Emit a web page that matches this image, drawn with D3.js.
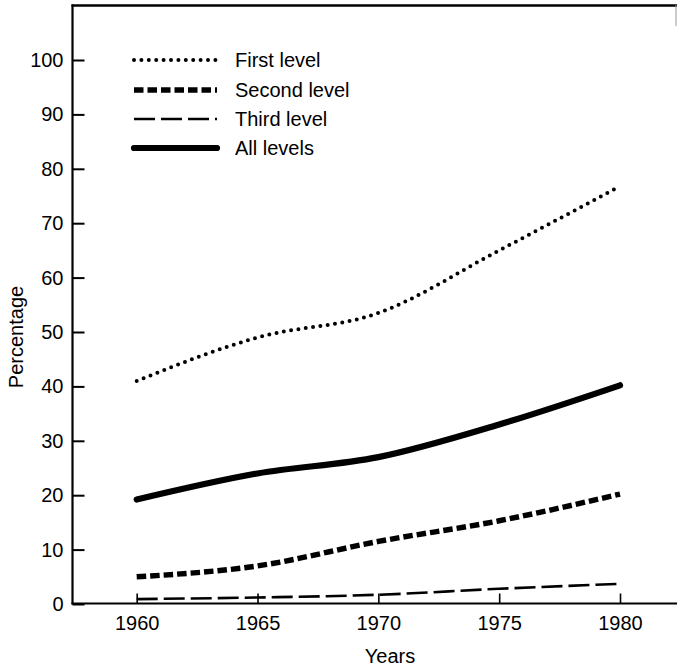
<!DOCTYPE html>
<html>
<head>
<meta charset="utf-8">
<script src="https://cdn.jsdelivr.net/npm/d3@7"></script>
<style>
  html, body { margin: 0; padding: 0; background: #fff; }
  svg { display: block; }
  text { font-family: "Liberation Sans", Arial, Helvetica, sans-serif; fill: #000; }
</style>
</head>
<body>
<svg id="chart" width="677" height="670"></svg>
<script>
// ---- data ----
const years = [1960, 1965, 1970, 1975, 1980];
const firstLevel  = [41, 49, 53.5, 65, 76.8];
const secondLevel = [5.0, 7.0, 11.5, 15.3, 20.2];
const thirdLevel  = [0.9, 1.2, 1.7, 2.8, 3.7];
const allLevels   = [19.2, 24.0, 27.0, 33.0, 40.2];
const seriesNames = ["First level", "Second level", "Third level", "All levels"];
const yTicks = [0, 10, 20, 30, 40, 50, 60, 70, 80, 90, 100];
const xTicks = [1960, 1965, 1970, 1975, 1980];

const seriesValues = [firstLevel, secondLevel, thirdLevel, allLevels];
const styles = [
  { width: 4.0, dash: "0 7.4", cap: "round" },
  { width: 5.4, dash: "9.5 4", cap: "butt" },
  { width: 2.6, dash: "21 6", cap: "butt" },
  { width: 6.2, dash: null,    cap: "round" }
];

const svg = d3.select("#chart");
const x = d3.scaleLinear().domain([1960, 1980]).range([136.7, 620]);
const y = d3.scaleLinear().domain([0, 100]).range([604, 60]);

// frame: top, left, bottom (right edge falls on the picture border)
const frame = svg.append("g").attr("stroke", "#000").attr("fill", "none");
frame.append("line").attr("x1", 71.5).attr("x2", 677).attr("y1", 5.5).attr("y2", 5.5).attr("stroke-width", 2.6);
frame.append("line").attr("x1", 72.5).attr("x2", 72.5).attr("y1", 4.5).attr("y2", 604.5).attr("stroke-width", 2.2);
frame.append("line").attr("x1", 71.5).attr("x2", 677).attr("y1", 603.5).attr("y2", 603.5).attr("stroke-width", 2.2);
frame.append("line").attr("x1", 676).attr("x2", 676).attr("y1", 5).attr("y2", 26).attr("stroke-width", 1).attr("stroke", "#999");

// y axis
const yAxis = svg.append("g").attr("transform", "translate(72.5,0)")
  .call(d3.axisLeft(y).tickValues(yTicks).tickSize(-12).tickPadding(9).tickFormat(d3.format("d")));
yAxis.select(".domain").remove();
yAxis.selectAll("line").attr("stroke", "#000").attr("stroke-width", 2);
yAxis.selectAll("text").style("font-size", "20px").attr("font-family", null);

// x axis
const xAxis = svg.append("g").attr("transform", "translate(0,603.5)")
  .call(d3.axisBottom(x).tickValues(xTicks).tickSize(-10).tickPadding(12).tickFormat(d3.format("d")));
xAxis.select(".domain").remove();
xAxis.selectAll("line").attr("stroke", "#000").attr("stroke-width", 1.6);
xAxis.selectAll("text").style("font-size", "20px").attr("font-family", null);

// axis titles
svg.append("text").attr("x", 390).attr("y", 663)
  .attr("text-anchor", "middle").style("font-size", "20px").text("Years");
svg.append("text").attr("transform", "translate(23,337) rotate(-90)")
  .attr("text-anchor", "middle").style("font-size", "20px").text("Percentage");

// lines
const line = d3.line()
  .x((d, i) => x(years[i]))
  .y(d => y(d))
  .curve(d3.curveMonotoneX);

seriesValues.forEach((vals, k) => {
  const s = styles[k];
  svg.append("path")
    .datum(vals)
    .attr("d", line)
    .attr("fill", "none")
    .attr("stroke", "#000")
    .attr("stroke-width", s.width)
    .attr("stroke-linecap", s.cap)
    .attr("stroke-dasharray", s.dash);
});

// legend
const legendY = [60, 90, 119, 148];
const legend = svg.append("g");
seriesNames.forEach((name, k) => {
  const s = styles[k];
  legend.append("line")
    .attr("x1", 134).attr("x2", 217)
    .attr("y1", legendY[k]).attr("y2", legendY[k])
    .attr("stroke", "#000")
    .attr("stroke-width", s.width)
    .attr("stroke-linecap", s.cap)
    .attr("stroke-dasharray", s.dash);
  legend.append("text")
    .attr("x", 235).attr("y", legendY[k])
    .attr("dy", "0.35em")
    .style("font-size", "20px")
    .text(name);
});
</script>
</body>
</html>
